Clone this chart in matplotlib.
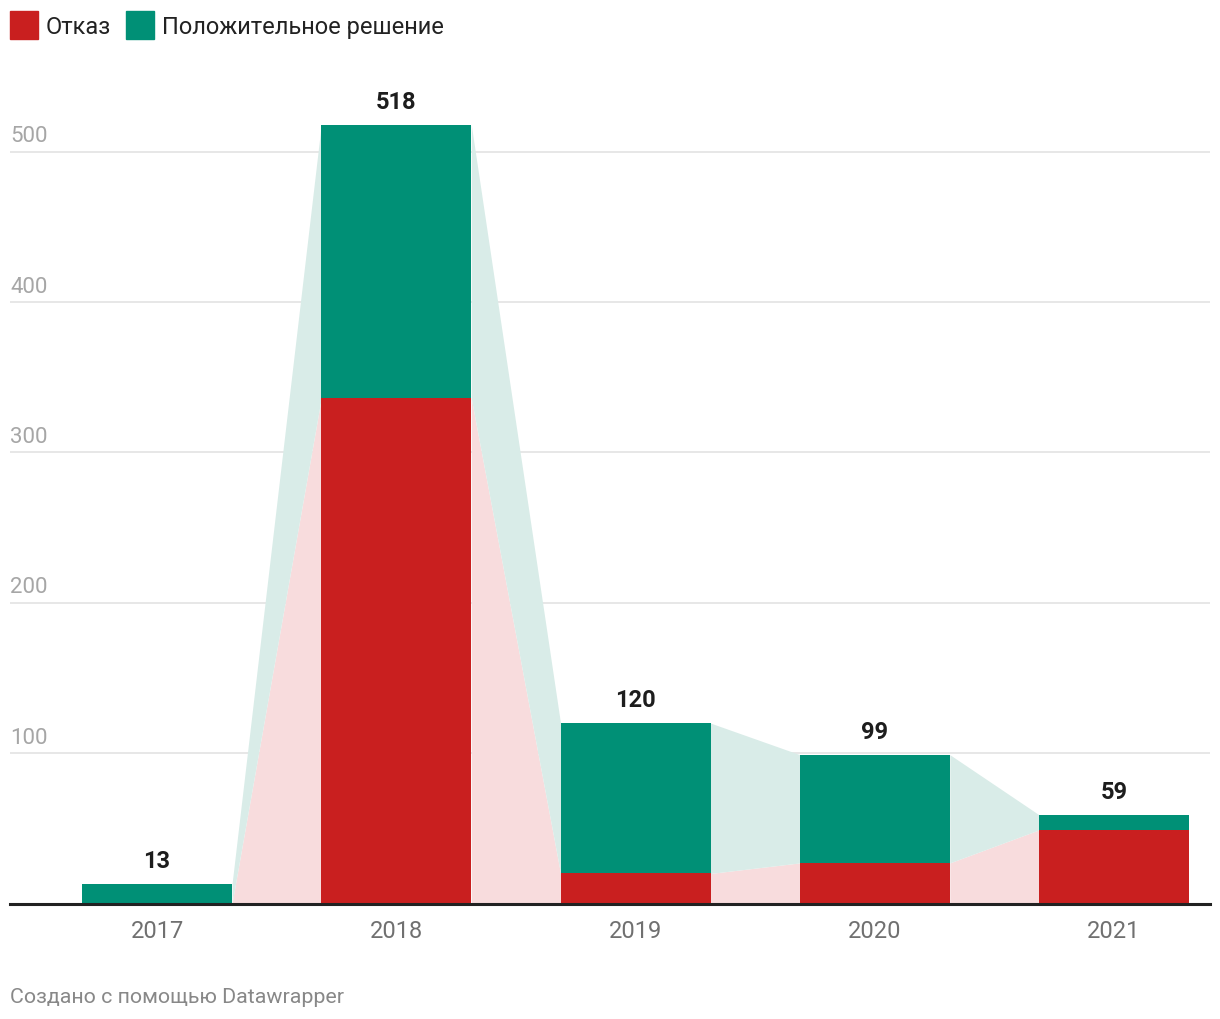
import matplotlib
matplotlib.use("Agg")
import matplotlib.pyplot as plt
from matplotlib.patches import Rectangle
import numpy as np

plt.rcParams['font.family'] = ['Roboto', 'DejaVu Sans']

years = ["2017", "2018", "2019", "2020", "2021"]
refusal = [0, 336, 20, 27, 49]
positive = [13, 182, 100, 72, 10]
yticks = [100, 200, 300, 400, 500]
legend_labels = ["Отказ", "Положительное решение"]

RED = "#c91f1f"
GREEN = "#009076"
RED_L = "#f8dcdd"
GREEN_L = "#d9ece8"

W, H = 1220, 1020
dpi = 100
fig = plt.figure(figsize=(W / dpi, H / dpi), dpi=dpi)

ax_left, ax_right = 10, 1210
ax_bottom_px, ax_top_px = 904.5, 81.5
ax = fig.add_axes([ax_left / W, (H - ax_bottom_px) / H,
                   (ax_right - ax_left) / W, (ax_bottom_px - ax_top_px) / H])

x = np.arange(len(years))
bw = 0.627
totals = [r + p for r, p in zip(refusal, positive)]

# connecting areas
for i in range(len(years) - 1):
    xr = x[i] + bw / 2
    xl = x[i + 1] - bw / 2
    xs = [xr, xl]
    ax.fill_between(xs, [0, 0], [refusal[i], refusal[i + 1]], color=RED_L, lw=0, zorder=1)
    ax.fill_between(xs, [refusal[i], refusal[i + 1]], [totals[i], totals[i + 1]],
                    color=GREEN_L, lw=0, zorder=1)

ax.bar(x, refusal, width=bw, color=RED, zorder=2, linewidth=0)
ax.bar(x, positive, width=bw, bottom=refusal, color=GREEN, zorder=2, linewidth=0)

for xi, t in zip(x, totals):
    ax.annotate(str(t), (xi, t), xytext=(0, 8.5), textcoords="offset points",
                ha="center", va="bottom", fontsize=17, fontweight="bold", color="#1d1d1d")

ax.set_xlim(-0.6144, 4.401)
ax.set_ylim(0, (ax_bottom_px - ax_top_px) / 1.5036)

ax.set_yticks(yticks)
ax.yaxis.grid(True, color="#e3e3e3", lw=1.2, zorder=0)
ax.set_axisbelow(True)
ax.tick_params(axis="y", length=0, labelleft=False)
for yt in yticks:
    ax.annotate(str(yt), (0, yt), xycoords=("axes fraction", "data"),
                xytext=(0, 4), textcoords="offset points",
                ha="left", va="bottom", fontsize=16, color="#a6a6a6")

ax.set_xticks(x)
ax.set_xticklabels(years, fontsize=17, color="#707070")
ax.tick_params(axis="x", length=0, pad=11)

for s in ["top", "right", "left"]:
    ax.spines[s].set_visible(False)
ax.spines["bottom"].set_color("#222222")
ax.spines["bottom"].set_linewidth(2.2)
ax.spines["bottom"].set_zorder(5)

# legend
def fx(px):
    return px / W

def fy(py):
    return 1 - py / H

sq = 28
fig.patches.append(Rectangle((fx(10), fy(40)), sq / W, sq / H, color=RED,
                             transform=fig.transFigure, figure=fig))
fig.text(fx(46), fy(27.5), legend_labels[0], fontsize=17, color="#222222", va="center", ha="left")
fig.patches.append(Rectangle((fx(126), fy(40)), sq / W, sq / H, color=GREEN,
                             transform=fig.transFigure, figure=fig))
fig.text(fx(162), fy(27.5), legend_labels[1], fontsize=17, color="#222222", va="center", ha="left")

fig.text(fx(10), fy(997.5), "Создано с помощью Datawrapper", fontsize=15.4,
         color="#888888", va="center", ha="left")

fig.savefig("out.png", dpi=dpi)
